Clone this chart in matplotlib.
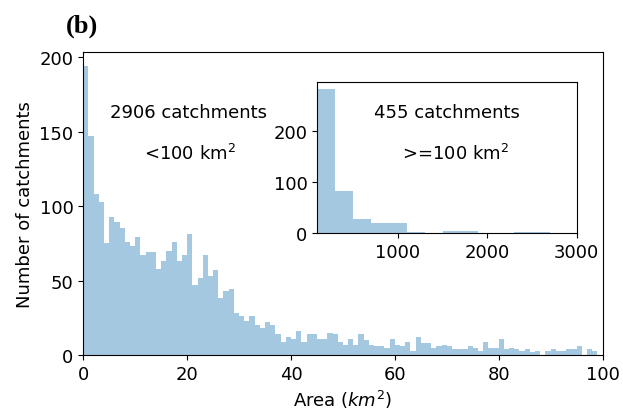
import matplotlib
matplotlib.use("Agg")
import matplotlib.pyplot as plt
import numpy as np

# catchments < 100 km2, 1 km2 bins (counts)
small_edges = np.arange(0, 101, 1)
small_counts = [
    194, 147, 108, 103, 75, 93, 89, 85, 76, 73,
    79, 67, 69, 69, 58, 63, 70, 76, 63, 67,
    81, 47, 52, 67, 53, 57, 38, 43, 44, 28,
    26, 23, 26, 20, 18, 22, 20, 14, 9, 12,
    11, 16, 9, 14, 14, 11, 11, 15, 14, 9,
    7, 11, 7, 14, 10, 7, 6, 6, 5, 11,
    7, 6, 9, 3, 12, 8, 8, 5, 6, 7,
    6, 4, 4, 4, 6, 5, 3, 9, 5, 5,
    11, 4, 5, 4, 3, 4, 2, 3, 0, 3,
    4, 3, 3, 4, 4, 6, 0, 4, 3, 0,
]

# catchments >= 100 km2, 200 km2 bins
large_edges = np.arange(100, 2901, 200)
large_counts = [283, 82, 27, 20, 20, 2, 0, 4, 4, 0, 0, 2, 1, 0]

plt.rcParams["font.size"] = 13

fig = plt.figure(figsize=(6.23, 4.14), dpi=100)
ax = fig.add_axes([0.1337, 0.1401, 0.8334, 0.7326])
ax.hist(small_edges[:-1], bins=small_edges, weights=small_counts, alpha=0.4)
ax.set_xlim(0, 100)
ax.set_xlabel("Area ($km^2$)")
ax.set_ylabel("Number of catchments")
ax.text(20.2, 163, "2906 catchments", ha="center", va="center")
ax.text(20.6, 136, "<100 km$^2$", ha="center", va="center")

fig.text(0.132, 0.937, "(b)", ha="center", va="center",
         family="Liberation Serif", weight="bold", fontsize=19)

# inset for the large catchments
axin = fig.add_axes([0.5093, 0.4348, 0.4164, 0.3655])
axin.hist(large_edges[:-1], bins=large_edges, weights=large_counts, alpha=0.4)
axin.set_xlim(100, 3000)
axin.text(1551, 237, "455 catchments", ha="center", va="center")
axin.text(1644, 158, ">=100 km$^2$", ha="center", va="center")

fig.savefig("out.png", dpi=100)
